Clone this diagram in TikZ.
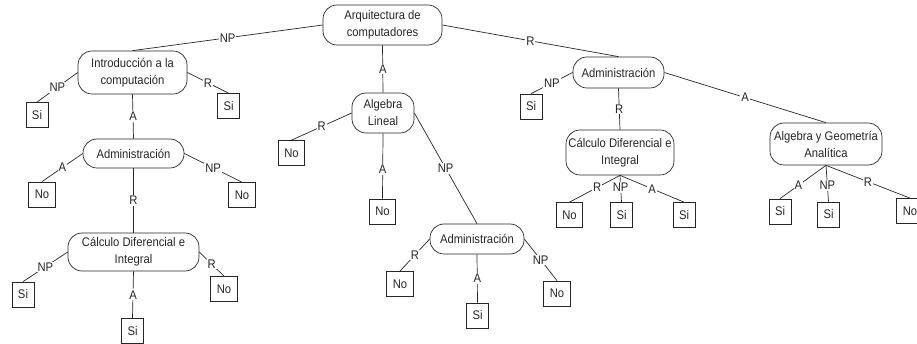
\documentclass[tikz,border=0pt]{standalone}
\usepackage{fontspec}
\setmainfont{Liberation Sans}[FakeStretch=0.9]
\usepackage{tikz}
\usetikzlibrary{positioning}

\begin{document}
\begin{tikzpicture}[x=1pt, y=-1pt, color=black!85, line width=0.7pt,
    tema/.style={draw, rounded corners=14pt, inner sep=0pt, align=center, font=\fontsize{12.5}{17}\selectfont},
    hoja/.style={draw, inner xsep=6pt, inner ysep=0pt, minimum height=25pt, font=\fontsize{12.5}{15}\selectfont},
    etiq/.style={fill=white, inner sep=1pt, font=\fontsize{12.5}{15}\selectfont}]
      \useasboundingbox (0,0) rectangle (917,344);

      % Subjects
      \node[tema, minimum width=119pt, minimum height=40pt] (raiz) at (382.5,25) {Arquitectura de\\computadores};
      \node[tema, minimum width=109pt, minimum height=43pt] (intro) at (132.5,72.5) {Introducción a la\\computación};
      \node[tema, minimum width=101pt, minimum height=29pt] (adm1) at (133.5,153.5) {Administración};
      \node[tema, minimum width=131pt, minimum height=38pt] (calc1) at (133.5,252) {Cálculo Diferencial e\\Integral};
      \node[tema, minimum width=62pt, minimum height=40pt] (alg) at (383,113) {Algebra\\Lineal};
      \node[tema, minimum width=94pt, minimum height=30pt] (adm2) at (477,239) {Administración};
      \node[tema, minimum width=91pt, minimum height=31pt] (adm3) at (618.5,72.5) {Administración};
      \node[tema, minimum width=108pt, minimum height=45pt] (calc2) at (620,152.5) {Cálculo Diferencial e\\Integral};
      \node[tema, minimum width=112pt, minimum height=42pt] (ayg) at (826,144) {Algebra y Geometría\\Analítica};

      % Answers
      \node[hoja] (si1) at (37,115) {Si};
      \node[hoja] (si2) at (228.5,106) {Si};
      \node[hoja] (no1) at (42,194.5) {No};
      \node[hoja] (no2) at (242,195) {No};
      \node[hoja] (si3) at (23,294.5) {Si};
      \node[hoja] (no3) at (224,289) {No};
      \node[hoja] (si4) at (132.5,331) {Si};
      \node[hoja] (no4) at (291.5,153) {No};
      \node[hoja] (no5) at (382.5,211.5) {No};
      \node[hoja] (no6) at (400,284) {No};
      \node[hoja] (si5) at (477.5,315.5) {Si};
      \node[hoja] (no7) at (557,293.5) {No};
      \node[hoja] (si6) at (531,106.5) {Si};
      \node[hoja] (no8) at (569.5,215) {No};
      \node[hoja] (si7) at (621.5,215) {Si};
      \node[hoja] (si8) at (684,215) {Si};
      \node[hoja] (si9) at (780,211.5) {Si};
      \node[hoja] (si10) at (828.5,214.5) {Si};
      \node[hoja] (no9) at (910,211) {No};

      % Branches
      \draw (raiz.west) -- node[etiq] {NP} (intro.north);
      \draw (raiz.south) -- node[etiq] {A} (alg.north);
      \draw (raiz.east) -- node[etiq] {R} (adm3.north);

      \draw (intro.west) -- node[etiq] {NP} (si1.north);
      \draw (intro.east) -- node[etiq] {R} (si2.north);
      \draw (intro.south) -- node[etiq] {A} (adm1.north);

      \draw (adm1.west) -- node[etiq] {A} (no1.north);
      \draw (adm1.east) -- node[etiq] {NP} (no2.north);
      \draw (adm1.south) -- node[etiq] {R} (calc1.north);

      \draw (calc1.west) -- node[etiq] {NP} (si3.north);
      \draw (calc1.east) -- node[etiq] {R} (no3.north);
      \draw (calc1.south) -- node[etiq] {A} (si4.north);

      \draw (alg.west) -- node[etiq] {R} (no4.north);
      \draw (alg.south) -- node[etiq, pos=0.55] {A} (no5.north);
      \draw (alg.east) -- node[etiq] {NP} (adm2.north);

      \draw (adm2.west) -- node[etiq] {R} (no6.north);
      \draw (adm2.south) -- node[etiq] {A} (si5.north);
      \draw (adm2.east) -- node[etiq] {NP} (no7.north);

      \draw (adm3.west) -- node[etiq] {NP} (si6.north);
      \draw (adm3.south) -- node[etiq] {R} (calc2.north);
      \draw (adm3.east) -- node[etiq] {A} (ayg.north);

      \draw (calc2.south) -- node[etiq, pos=0.45] {R} (no8.north);
      \draw (calc2.south) -- node[etiq, pos=0.45] {NP} (si7.north);
      \draw (calc2.south) -- node[etiq] {A} (si8.north);

      \draw (ayg.south) -- node[etiq, pos=0.6] {A} (si9.north);
      \draw (ayg.south) -- node[etiq, pos=0.55] {NP} (si10.north);
      \draw (ayg.south) -- node[etiq] {R} (no9.north);
\end{tikzpicture}
\end{document}
